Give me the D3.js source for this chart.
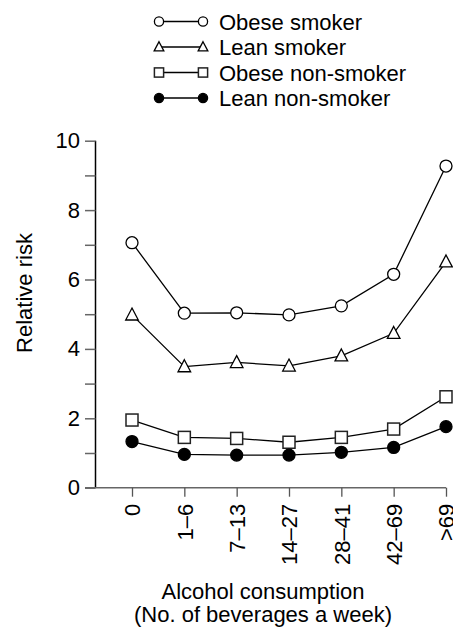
<!DOCTYPE html>
<html>
<head>
<meta charset="utf-8">
<script src="https://cdn.jsdelivr.net/npm/d3@7"></script>
<style>
  body { margin: 0; background: #fff; }
  text { font-family: "Liberation Sans", Arial, sans-serif; fill: #000; }
</style>
</head>
<body>
<svg id="chart" width="453" height="628"></svg>
<script>
// Categories and series
var categories = ["0", "1\u20136", "7\u201313", "14\u201327", "28\u201341", "42\u201369", ">69"];
var obeseSmoker = [7.06, 5.03, 5.04, 4.98, 5.24, 6.15, 9.27];
var leanSmoker = [4.98, 3.49, 3.61, 3.51, 3.80, 4.45, 6.51];
var obeseNonSmoker = [1.95, 1.45, 1.42, 1.31, 1.45, 1.69, 2.62];
var leanNonSmoker = [1.33, 0.96, 0.94, 0.94, 1.02, 1.16, 1.76];
var seriesNames = ["Obese smoker", "Lean smoker", "Obese non-smoker", "Lean non-smoker"];
var seriesShapes = ["circle", "triangle", "square", "dot"];
var yTicks = [0, 1, 2, 3, 4, 5, 6, 7, 8, 9, 10];

var series = [obeseSmoker, leanSmoker, obeseNonSmoker, leanNonSmoker].map(function(v, i) {
  return { name: seriesNames[i], shape: seriesShapes[i], values: v };
});

var svg = d3.select("#chart");
var fontSize = 22;

var x = d3.scalePoint().domain(categories).range([132, 446]);
var y = d3.scaleLinear().domain([0, 10]).range([487.7, 140.7]);

// Draw a marker of a given shape centred at (cx, cy)
function marker(g, shape, cx, cy, s) {
  if (shape === "circle" || shape === "dot") {
    g.append("circle")
      .attr("cx", cx).attr("cy", cy).attr("r", s)
      .attr("fill", shape === "dot" ? "#000" : "#fff")
      .attr("stroke", "#000").attr("stroke-width", 1.3);
  } else if (shape === "square") {
    g.append("rect")
      .attr("x", cx - s).attr("y", cy - s)
      .attr("width", 2 * s).attr("height", 2 * s)
      .attr("fill", "#fff").attr("stroke", "#222").attr("stroke-width", 1.5);
  } else {
    var h = s * 1.9;
    g.append("path")
      .attr("d", "M" + cx + "," + (cy - h * 0.6) +
        "L" + (cx + s * 1.05) + "," + (cy + h * 0.45) +
        "L" + (cx - s * 1.05) + "," + (cy + h * 0.45) + "Z")
      .attr("fill", "#fff").attr("stroke", "#000").attr("stroke-width", 1.3);
  }
}

// Y axis
var yAxis = svg.append("g").attr("transform", "translate(95.5,0)")
  .call(d3.axisLeft(y).tickValues(yTicks).tickSize(10.5).tickPadding(5)
    .tickFormat(function(d) { return d % 2 === 0 ? d : ""; }));
yAxis.select(".domain").attr("stroke", "#000").attr("stroke-width", 1.5)
  .attr("d", "M0," + y(10) + "V" + y(0));
yAxis.selectAll(".tick line").attr("stroke", "#666").attr("stroke-width", 1.5);
yAxis.selectAll(".tick text").attr("font-size", fontSize).attr("font-family", "Liberation Sans, Arial, sans-serif")
  .attr("fill", "#000");

// X axis
var xAxis = svg.append("g").attr("transform", "translate(0," + y(0) + ")")
  .call(d3.axisBottom(x).tickSize(9).tickPadding(0));
xAxis.select(".domain").attr("stroke", "#666").attr("stroke-width", 1.5)
  .attr("d", "M85,0H446");
xAxis.selectAll(".tick line").attr("stroke", "#555").attr("stroke-width", 1.3);
xAxis.selectAll(".tick text")
  .attr("font-size", fontSize).attr("font-family", "Liberation Sans, Arial, sans-serif").attr("fill", "#000")
  .attr("text-anchor", "end")
  .attr("transform", "rotate(-90)")
  .attr("x", -16).attr("y", 0).attr("dy", "0.36em");

// Axis titles
svg.append("text").attr("transform", "translate(32,293) rotate(-90)")
  .attr("text-anchor", "middle").attr("font-size", fontSize).text("Relative risk");
svg.append("text").attr("x", 263).attr("y", 599)
  .attr("text-anchor", "middle").attr("font-size", fontSize).text("Alcohol consumption");
svg.append("text").attr("x", 263).attr("y", 622)
  .attr("text-anchor", "middle").attr("font-size", fontSize).text("(No. of beverages a week)");

// Lines and markers
var line = d3.line()
  .x(function(d, i) { return x(categories[i]); })
  .y(function(d) { return y(d); });

series.forEach(function(s) {
  svg.append("path").datum(s.values)
    .attr("d", line).attr("fill", "none")
    .attr("stroke", "#000").attr("stroke-width", 1.3);
});
series.forEach(function(s) {
  var g = svg.append("g");
  s.values.forEach(function(v, i) {
    marker(g, s.shape, x(categories[i]), y(v), 6);
  });
});

// Legend
var legendY = [21.5, 47, 72.5, 98];
series.forEach(function(s, i) {
  var g = svg.append("g");
  g.append("line").attr("x1", 159).attr("x2", 203)
    .attr("y1", legendY[i]).attr("y2", legendY[i])
    .attr("stroke", "#000").attr("stroke-width", 1.3);
  marker(g, s.shape, 159, legendY[i], 4.6);
  marker(g, s.shape, 203, legendY[i], 4.6);
  g.append("text").attr("x", 219).attr("y", legendY[i] + 8)
    .attr("font-size", fontSize).text(s.name);
});
</script>
</body>
</html>
